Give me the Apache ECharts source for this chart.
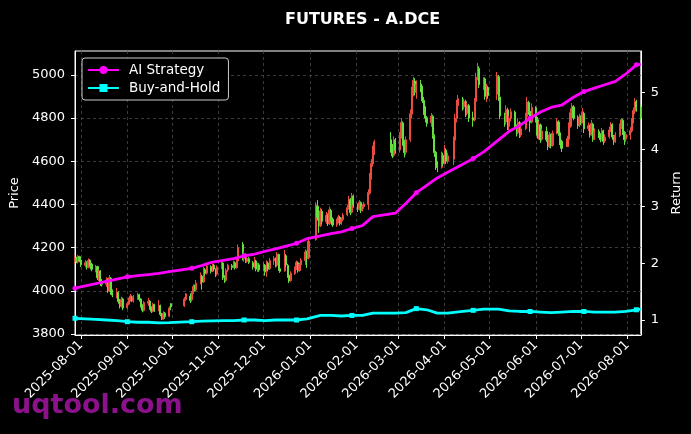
<!DOCTYPE html>
<html>
<head>
<meta charset="utf-8">
<title>FUTURES - A.DCE</title>
<script src="https://cdn.jsdelivr.net/npm/echarts@6/dist/echarts.min.js"></script>
<style>
html, body { margin: 0; padding: 0; background: #000; }
#chart { width: 691px; height: 434px; }
</style>
</head>
<body>
<div id="chart"></div>
<script>
var firstDay = '2025-07-28';
var lastDay = '2026-08-10';
// weekdays with no trading (exchange holidays)
var holidays = ['2025-10-01', '2025-10-02', '2025-10-03', '2025-10-06', '2025-10-07', '2025-10-08',
    '2026-01-01', '2026-01-02',
    '2026-02-16', '2026-02-17', '2026-02-18', '2026-02-19', '2026-02-20', '2026-02-23',
    '2026-04-06', '2026-05-01', '2026-05-04', '2026-05-05', '2026-06-19'];

// one row per trading day: [open, close, low, high]
var ohlc = [
    [4140,4150,4125,4166],[4152,4135,4128,4158],[4133,4160,4126,4165],[4158,4140,4132,4162],[4142,4120,4110,4148],
    [4118,4130,4108,4142],[4132,4110,4098,4136],[4108,4140,4104,4150],[4142,4125,4115,4146],[4124,4100,4090,4130],
    [4098,4110,4085,4120],[4112,4060,4050,4116],[4058,4090,4045,4098],[4092,4040,4022,4096],[4038,4030,4020,4055],
    [4030,4050,4018,4062],[4052,4000,3990,4058],[3998,4060,3994,4073],[4058,3990,3982,4064],[3992,3980,3970,4006],
    [3978,3990,3965,4013],[3992,3950,3940,3998],[3952,3930,3918,3962],[3928,3960,3922,3972],[3962,3920,3910,3968],
    [3922,3940,3915,3950],[3938,3960,3932,3968],[3958,3975,3950,3985],[3972,3955,3948,3978],[3952,3970,3945,3980],
    [3968,3980,3958,3990],[3982,3960,3950,3986],[3962,3930,3922,3966],[3932,3910,3900,3938],[3908,3945,3904,3952],
    [3942,3950,3930,3967],[3952,3920,3912,3956],[3922,3905,3897,3928],[3904,3935,3900,3944],[3936,3910,3902,3940],
    [3912,3930,3905,3957],[3932,3890,3882,3936],[3892,3870,3865,3898],[3868,3895,3866,3905],[3896,3880,3870,3902],
    [3882,3920,3878,3928],[3940,3925,3910,3943],
    [3930,3962,3925,3970],[3960,3985,3952,3990],
    [3975,3955,3943,3988],[3958,3990,3950,3998],[3992,4020,3985,4030],[4022,4005,3996,4028],[4004,4035,3998,4050],
    [4038,4070,4030,4085],[4068,4040,4005,4074],[4042,4100,4036,4112],[4098,4080,4070,4106],[4082,4115,4075,4130],
    [4112,4090,4080,4118],[4092,4120,4086,4135],[4118,4100,4090,4124],[4098,4075,4064,4104],[4078,4110,4070,4118],
    [4112,4130,4100,4143],[4128,4060,4050,4134],[4062,4045,4036,4072],[4048,4095,4042,4104],[4096,4118,4088,4126],
    [4116,4108,4096,4124],[4110,4132,4104,4140],[4130,4106,4098,4136],[4108,4140,4102,4152],[4138,4200,4130,4215],
    [4215,4150,4140,4226],[4148,4170,4135,4182],[4168,4135,4128,4174],[4136,4150,4130,4160],[4148,4132,4124,4156],
    [4130,4110,4098,4138],[4112,4140,4104,4157],[4138,4100,4090,4144],[4102,4122,4087,4130],[4120,4096,4088,4128],
    [4098,4120,4090,4132],[4118,4088,4070,4124],[4090,4130,4064,4140],[4128,4100,4092,4136],[4102,4140,4096,4152],
    [4138,4150,4120,4160],[4148,4115,4108,4154],[4118,4170,4112,4180],[4168,4100,4092,4172],[4102,4090,4083,4110],
    [4092,4165,4088,4190],[4162,4120,4110,4170],[4118,4070,4060,4125],[4072,4045,4036,4080],[4048,4082,4042,4090],
    [4080,4104,4073,4112],[4102,4132,4096,4140],[4130,4092,4084,4136],[4094,4122,4088,4130],[4120,4142,4112,4152],
    [4140,4180,4120,4192],[4178,4150,4106,4186],[4152,4230,4145,4245],
    [4238,4395,4232,4410],[4392,4340,4325,4420],[4338,4300,4268,4352],[4302,4370,4295,4385],[4368,4322,4310,4378],
    [4320,4350,4310,4365],[4352,4310,4300,4358],[4312,4375,4305,4390],[4372,4330,4320,4380],[4332,4305,4296,4340],
    [4306,4322,4296,4334],[4320,4342,4312,4352],[4340,4312,4302,4346],[4314,4332,4306,4340],[4330,4350,4322,4360],
    [4352,4385,4345,4398],[4384,4425,4376,4440],[4422,4362,4350,4430],[4364,4440,4358,4453],[4438,4398,4385,4446],
    [4396,4378,4365,4404],[4380,4410,4372,4420],[4408,4372,4360,4414],[4374,4392,4366,4400],[4390,4402,4380,4412],
    [4400,4455,4375,4470],[4452,4525,4445,4546],[4522,4590,4515,4610],[4588,4650,4575,4672],[4648,4690,4630,4700],
    [4700,4660,4640,4735],[4662,4625,4615,4680],[4628,4700,4620,4715],[4698,4650,4635,4708],
    [4652,4720,4640,4735],[4718,4780,4705,4800],[4778,4690,4672,4785],[4692,4640,4618,4700],[4642,4700,4630,4715],
    [4700,4820,4690,4840],[4818,4930,4800,4945],[4928,4975,4900,4990],[4972,4920,4905,4985],[4922,4955,4890,4975],
    [4958,4940,4920,4977],[4942,4880,4870,4950],[4882,4840,4815,4898],[4842,4800,4780,4855],[4802,4775,4760,4810],
    [4778,4810,4760,4824],[4808,4720,4705,4815],[4718,4640,4620,4725],[4642,4580,4560,4648],[4582,4570,4550,4600],
    [4572,4630,4566,4645],[4628,4590,4578,4640],[4592,4655,4585,4676],[4652,4600,4588,4660],[4602,4625,4590,4640],
    [4610,4700,4583,4715],[4698,4800,4690,4820],[4798,4860,4780,4885],[4858,4890,4840,4907],
    [4888,4850,4835,4898],[4852,4878,4840,4890],[4876,4820,4805,4885],[4822,4860,4812,4872],[4858,4800,4782,4866],
    [4802,4790,4760,4830],[4792,4880,4785,4893],[4878,4990,4870,5010],[4988,5035,4975,5055],[5030,4955,4940,5040],
    [4955,4985,4930,4990],[4982,4900,4885,4988],[4902,4945,4875,4960],[4942,4905,4890,4950],
    [4910,4995,4884,5014],[4992,4900,4880,5000],[4898,4810,4795,4847],
    [4812,4780,4760,4825],[4782,4840,4770,4860],[4838,4760,4745,4848],[4762,4800,4736,4812],[4798,4830,4785,4845],
    [4828,4760,4748,4835],[4762,4730,4715,4770],[4732,4780,4725,4800],[4778,4720,4708,4786],[4722,4750,4712,4762],
    [4752,4810,4745,4825],[4808,4875,4800,4898],[4872,4830,4815,4880],[4832,4780,4736,4840],[4782,4850,4775,4868],
    [4848,4790,4780,4855],[4792,4720,4705,4805],[4722,4770,4700,4785],[4768,4700,4685,4775],[4702,4740,4695,4752],
    [4738,4700,4690,4760],[4702,4668,4652,4712],[4670,4722,4662,4735],[4720,4672,4660,4728],[4674,4730,4668,4742],
    [4732,4785,4725,4800],[4782,4730,4718,4790],[4732,4690,4675,4740],[4692,4660,4643,4700],
    [4668,4705,4666,4718],[4702,4765,4695,4780],[4762,4825,4755,4845],[4822,4855,4810,4870],[4852,4800,4790,4860],
    [4802,4765,4750,4812],[4768,4805,4758,4820],[4802,4780,4768,4812],[4782,4825,4775,4847],[4822,4750,4731,4830],
    [4752,4765,4740,4780],[4762,4722,4710,4770],[4724,4775,4718,4791],[4772,4702,4690,4778],[4704,4740,4698,4752],
    [4738,4720,4708,4748],[4722,4700,4688,4730],[4702,4742,4695,4754],[4740,4692,4676,4746],[4694,4712,4685,4725],
    [4714,4745,4705,4760],[4742,4772,4735,4782],[4770,4712,4700,4776],[4714,4690,4676,4722],[4692,4722,4685,4735],
    [4720,4762,4712,4775],[4760,4792,4750,4800],[4790,4732,4722,4796],[4734,4700,4676,4740],[4702,4724,4690,4736],
    [4722,4742,4700,4758],[4740,4785,4732,4800],[4782,4835,4775,4850],[4832,4878,4820,4893],[4875,4850,4830,4885],
    [4852,4800,4790,4860]
];

// returns read every 5th trading day (last value = final day)
var sampleStep = 5;
var aiReturn = [1.56, 1.60, 1.64, 1.68, 1.72, 1.76, 1.78, 1.80, 1.82, 1.85,
    1.91, 1.96, 2.02, 2.05, 2.08, 2.13, 2.16, 2.21, 2.25, 2.30,
    2.35, 2.43, 2.48, 2.52, 2.55, 2.61, 2.66, 2.82, 2.88, 3.05,
    3.24, 3.37, 3.50, 3.60, 3.74, 3.84, 3.96, 4.17, 4.32, 4.42,
    4.55, 4.66, 4.74, 4.78, 4.92, 5.02, 5.08, 5.14, 5.20, 5.33,
    5.49, 5.50];
var bhReturn = [1.03, 1.02, 1.01, 1.00, 0.99, 0.97, 0.96, 0.96, 0.95, 0.955,
    0.97, 0.98, 0.985, 0.99, 0.99, 1.00, 1.00, 0.99, 1.00, 1.00,
    1.00, 1.02, 1.08, 1.08, 1.07, 1.08, 1.08, 1.12, 1.12, 1.13,
    1.20, 1.18, 1.12, 1.12, 1.15, 1.17, 1.19, 1.19, 1.16, 1.15,
    1.15, 1.14, 1.13, 1.14, 1.15, 1.15, 1.14, 1.14, 1.14, 1.15,
    1.18, 1.19];
var markerStep = 25;

var priceTicks = [3800, 4000, 4200, 4400, 4600, 4800, 5000];
var returnTicks = [1, 2, 3, 4, 5];

var upColor = '#ec4c40';
var downColor = '#66e040';

function fmt(d) {
    return d.toISOString().slice(0, 10);
}

// calendar days for the axis, trading days for the candles
var days = [];
var tradeDays = [];
for (var t = Date.parse(firstDay); t <= Date.parse(lastDay); t += 86400000) {
    var d = new Date(t);
    var s = fmt(d);
    days.push(s);
    var wd = d.getUTCDay();
    if (wd !== 0 && wd !== 6 && holidays.indexOf(s) < 0) {
        tradeDays.push(s);
    }
}

var candleByDay = {};
for (var i = 0; i < tradeDays.length && i < ohlc.length; i++) {
    candleByDay[tradeDays[i]] = ohlc[i];
}
var candleData = days.map(function (s) {
    return candleByDay[s] || '-';
});

function lineData(values) {
    var byDay = {};
    values.forEach(function (v, k) {
        var idx = Math.min(k * sampleStep, tradeDays.length - 1);
        byDay[tradeDays[idx]] = { value: v, idx: idx };
    });
    return days.map(function (s) {
        var p = byDay[s];
        if (!p) return '-';
        if (p.idx % markerStep === 0) return { value: p.value };
        return { value: p.value, symbol: 'none' };
    });
}

function isMonthStart(index, value) {
    return value.slice(8) === '01';
}

function plainNumber(v) {
    return String(v);
}

var myChart = echarts.init(document.getElementById('chart'));

var option = {
    animation: false,
    backgroundColor: '#000',
    textStyle: { fontFamily: 'DejaVu Sans' },
    title: {
        text: 'FUTURES - A.DCE',
        left: 280,
        top: 7,
        textStyle: { color: '#fff', fontSize: 16, fontWeight: 'bold', fontFamily: 'DejaVu Sans' }
    },
    legend: {
        orient: 'vertical',
        left: 82,
        top: 58,
        padding: [5, 8, 5, 5],
        itemGap: 4,
        itemWidth: 31,
        itemHeight: 10,
        backgroundColor: '#000',
        borderColor: '#cccccc',
        borderWidth: 1,
        borderRadius: 3,
        textStyle: { color: '#fff', fontSize: 13.5, padding: [0, 0, 0, 5] },
        data: ['AI Strategy', 'Buy-and-Hold']
    },
    grid: {
        left: 75,
        right: 48,
        top: 51,
        bottom: 99,
        show: true,
        borderColor: '#fff',
        borderWidth: 1,
        backgroundColor: '#000'
    },
    xAxis: {
        type: 'category',
        data: days,
        boundaryGap: false,
        axisLine: { lineStyle: { color: '#fff', width: 1 } },
        axisTick: { interval: isMonthStart, length: 4, lineStyle: { color: '#fff' } },
        axisLabel: { interval: isMonthStart, rotate: 45, color: '#fff', fontSize: 13, margin: 8 },
        splitLine: { show: true, interval: isMonthStart, lineStyle: { color: '#4a4a4a', type: [3, 3], width: 0.8 } }
    },
    yAxis: [
        {
            type: 'value',
            position: 'left',
            min: 3795,
            max: 5111,
            name: 'Price',
            nameLocation: 'middle',
            nameGap: 53,
            nameTextStyle: { color: '#fff', fontSize: 13 },
            axisLine: { show: true, lineStyle: { color: '#fff', width: 1 } },
            axisTick: { show: true, length: 4, customValues: priceTicks, lineStyle: { color: '#fff' } },
            axisLabel: { color: '#fff', fontSize: 13, margin: 10, customValues: priceTicks, formatter: plainNumber },
            splitLine: { show: true, lineStyle: { color: '#4a4a4a', type: [3, 3], width: 0.8 } }
        },
        {
            type: 'value',
            position: 'right',
            min: 0.736,
            max: 5.734,
            name: 'Return',
            nameLocation: 'middle',
            nameGap: 26,
            nameTextStyle: { color: '#fff', fontSize: 13 },
            axisLine: { show: true, lineStyle: { color: '#fff', width: 1 } },
            axisTick: { show: true, length: 4, customValues: returnTicks, lineStyle: { color: '#fff' } },
            axisLabel: { color: '#fff', fontSize: 13, margin: 10, customValues: returnTicks, formatter: plainNumber },
            splitLine: { show: false }
        }
    ],
    series: [
        {
            name: 'Price',
            type: 'candlestick',
            yAxisIndex: 0,
            barWidth: 1.6,
            data: candleData,
            itemStyle: {
                color: upColor,
                color0: downColor,
                borderColor: upColor,
                borderColor0: downColor,
                borderWidth: 1
            }
        },
        {
            name: 'AI Strategy',
            type: 'line',
            yAxisIndex: 1,
            data: lineData(aiReturn),
            connectNulls: true,
            showAllSymbol: true,
            symbol: 'circle',
            symbolSize: 5,
            z: 4,
            lineStyle: { color: '#ff00ff', width: 2.8 },
            itemStyle: { color: '#ff00ff' }
        },
        {
            name: 'Buy-and-Hold',
            type: 'line',
            yAxisIndex: 1,
            data: lineData(bhReturn),
            connectNulls: true,
            showAllSymbol: true,
            symbol: 'rect',
            symbolSize: 5,
            z: 4,
            lineStyle: { color: '#00ffff', width: 2.8 },
            itemStyle: { color: '#00ffff' }
        }
    ],
    graphic: [
        {
            type: 'text',
            left: 12,
            top: 392,
            z: -1,
            style: {
                text: 'uqtool.com',
                fill: '#8c128c',
                font: 'bold 27px "DejaVu Sans"'
            }
        }
    ]
};

myChart.setOption(option, true);
</script>
</body>
</html>
